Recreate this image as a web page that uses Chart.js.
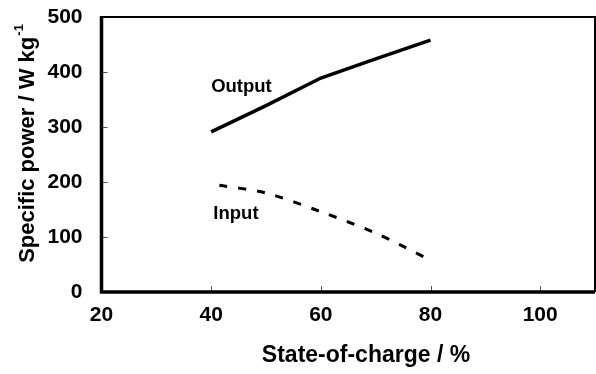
<!DOCTYPE html>
<html>
<head>
<meta charset="utf-8">
<script src="https://cdn.jsdelivr.net/npm/chart.js@4"></script>
<style>
  html, body { margin: 0; padding: 0; background: #fff; }
  #wrap { width: 596px; height: 374px; }
</style>
</head>
<body>
<div id="wrap"><canvas id="grafico" width="596" height="374"></canvas></div>
<script>
// State-of-charge (%) and specific power (W/kg)
const socOutput = [40, 50, 60, 70, 80];
const powerOutput = [291, 339, 389, 424, 458];
const socInput = [41.5, 50, 60, 70, 80];
const powerInput = [194, 180, 146, 107, 58];

const xTicks = [20, 40, 60, 80, 100];
const yTicks = [0, 100, 200, 300, 400, 500];

const curveLabels = ['Output', 'Input'];
const curveLabelAt = [[40, 373], [40.4, 142]];

const FONT = '"Liberation Sans", Arial, Helvetica, sans-serif';

// Frame, inner ticks, curve labels and axis titles
const decor = {
    id: 'decor',
    afterDraw(chart) {
        const { ctx, chartArea: a, scales: { x, y } } = chart;
        ctx.save();

        // inner ticks
        ctx.strokeStyle = '#555';
        ctx.lineWidth = 1;
        xTicks.slice(1).forEach(v => {
            const px = Math.round(x.getPixelForValue(v)) + 0.5;
            ctx.beginPath();
            ctx.moveTo(px, a.bottom);
            ctx.lineTo(px, a.bottom - 6);
            ctx.stroke();
        });
        yTicks.slice(1, -1).forEach(v => {
            const py = Math.round(y.getPixelForValue(v)) + 0.5;
            ctx.beginPath();
            ctx.moveTo(a.left, py);
            ctx.lineTo(a.left + 6, py);
            ctx.stroke();
        });

        // frame
        ctx.strokeStyle = '#000';
        ctx.lineWidth = 2;
        ctx.beginPath();
        ctx.moveTo(a.left, a.top);
        ctx.lineTo(a.right, a.top);
        ctx.lineTo(a.right, a.bottom);
        ctx.stroke();
        ctx.lineWidth = 3.5;
        ctx.beginPath();
        ctx.moveTo(a.left, a.top - 1);
        ctx.lineTo(a.left, a.bottom);
        ctx.lineTo(a.right, a.bottom);
        ctx.stroke();

        // curve labels
        ctx.fillStyle = '#000';
        ctx.font = 'bold 18.5px ' + FONT;
        ctx.textBaseline = 'middle';
        ctx.textAlign = 'left';
        curveLabels.forEach((t, i) => {
            const [vx, vy] = curveLabelAt[i];
            ctx.fillText(t, x.getPixelForValue(vx), y.getPixelForValue(vy));
        });

        // x title
        ctx.font = 'bold 23px ' + FONT;
        ctx.textAlign = 'center';
        ctx.fillText('State-of-charge / %', 366, 356);

        // y title with superscript
        ctx.translate(28, 144);
        ctx.rotate(-Math.PI / 2);
        const main = 'Specific power / W kg';
        ctx.font = 'bold 22px ' + FONT;
        const wMain = ctx.measureText(main).width;
        ctx.font = 'bold 13px ' + FONT;
        const wSup = ctx.measureText('-1').width;
        const start = -(wMain + wSup) / 2;
        ctx.textAlign = 'left';
        ctx.font = 'bold 22px ' + FONT;
        ctx.fillText(main, start, 0);
        ctx.font = 'bold 13px ' + FONT;
        ctx.fillText('-1', start + wMain + 1, -9);
        ctx.restore();
    }
};

new Chart(document.getElementById('grafico'), {
    type: 'line',
    data: {
        datasets: [{
            label: 'Output',
            data: socOutput.map((s, i) => ({ x: s, y: powerOutput[i] })),
            borderColor: '#000',
            borderWidth: 3.5,
            pointRadius: 0,
            tension: 0
        }, {
            label: 'Input',
            data: socInput.map((s, i) => ({ x: s, y: powerInput[i] })),
            borderColor: '#000',
            borderWidth: 3,
            borderDash: [8, 11],
            pointRadius: 0,
            tension: 0.3
        }]
    },
    options: {
        responsive: false,
        animation: false,
        layout: { padding: { left: 0, right: 1, top: 17, bottom: 0 } },
        plugins: { legend: { display: false }, tooltip: { enabled: false } },
        scales: {
            x: {
                type: 'linear',
                min: 20,
                max: 110,
                afterBuildTicks: s => { s.ticks = xTicks.map(v => ({ value: v })); },
                grid: { display: false },
                border: { display: false },
                ticks: {
                    color: '#000',
                    font: { family: FONT, size: 21, weight: 'bold' },
                    padding: 3,
                    maxRotation: 0
                },
                afterFit: s => { s.height = 82; s.paddingLeft = 0; s.paddingRight = 0; }
            },
            y: {
                min: 0,
                max: 500,
                afterBuildTicks: s => { s.ticks = yTicks.map(v => ({ value: v })); },
                grid: { display: false },
                border: { display: false },
                ticks: {
                    color: '#000',
                    font: { family: FONT, size: 21, weight: 'bold' },
                    padding: 11
                },
                afterFit: s => { s.width = 101.5; s.paddingTop = 0; s.paddingBottom = 0; }
            }
        }
    },
    plugins: [decor]
});
</script>
</body>
</html>
